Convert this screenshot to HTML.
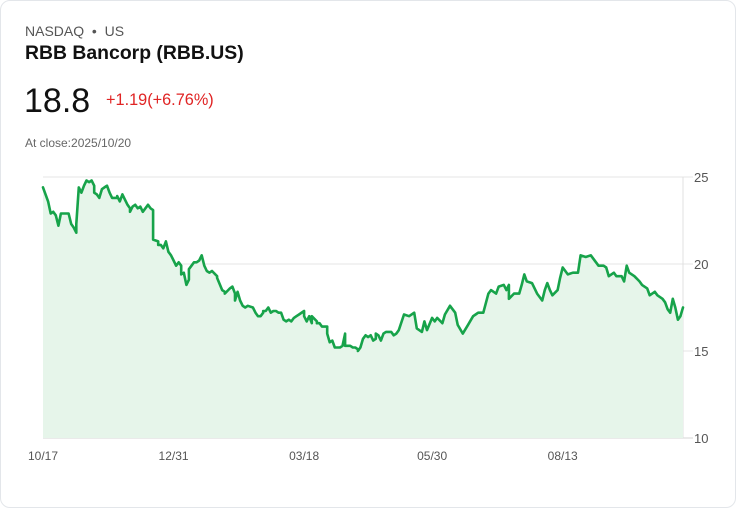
<!DOCTYPE html>
<html><head><meta charset="utf-8"><style>
html,body{margin:0;padding:0;background:#fff;}
body{width:736px;height:508px;position:relative;overflow:hidden;font-family:"Liberation Sans",sans-serif;}
.card{position:absolute;left:0;top:0;width:734px;height:506px;border:1px solid #e3e6ea;border-radius:10px;}
.t{position:absolute;white-space:nowrap;}
</style></head><body>
<div class="card"></div>
<div class="t" style="left:25px;top:23px;font-size:14px;color:#555;">NASDAQ &nbsp;•&nbsp; US</div>
<div class="t" style="left:25px;top:42px;font-size:19.4px;font-weight:bold;color:#111;">RBB Bancorp (RBB.US)</div>
<div class="t" style="left:24px;top:82px;font-size:34px;color:#111;">18.8</div>
<div class="t" style="left:106px;top:91px;font-size:16.3px;color:#e02424;">+1.19(+6.76%)</div>
<div class="t" style="left:25px;top:136px;font-size:12px;color:#666;">At close:2025/10/20</div>
<svg id="chart" width="736" height="508" style="position:absolute;left:0;top:0"></svg>
<script>
const sessions=[0,2,3,4,5,6,7,8,9,10,11,12,13,13,14,15,16,17,18,19,20,20,21,22,23,24,25,26,27,29,29,30,31,32,33,34,34,35,36,37,38,39,40,41,42,43,43,45,45,46,47,48,49,50,51,52,53,54,54,55,56,57,57,59,60,61,62,63,64,65,66,68,68,70,71,71,73,74,75,75,76,77,78,79,80,82,83,84,85,86,86,87,88,89,90,91,92,93,94,95,96,97,98,99,100,102,102,103,104,105,105,107,107,108,109,111,111,112,113,114,115,116,117,118,118,119,120,121,122,123,123,124,125,126,127,128,129,130,130,131,132,133,134,135,136,137,138,139,
141,143,145,146,148,149,150,152,153,154,156,157,159,161,162,164,166,168,169,170,172,174,175,177,178,180,181,182,182,184,186,187,188,189,191,193,195,196,197,198,199,201,202,203,205,207,209,210,212,214,216,217,219,220,221,223,224,226,227,228,229,231,233,234,236,237,239,240,242,243,244,245,246,247,248,249,250];
const prices=[24.4,23.6,22.9,23.0,22.8,22.2,22.9,22.9,22.9,22.9,22.3,22.1,21.8,22.3,24.4,24.1,24.5,24.8,24.7,24.8,24.5,24.1,24.0,23.8,24.3,24.4,24.5,24.1,23.8,23.8,23.9,23.6,24.0,23.7,23.4,23.2,23.0,23.3,23.4,23.2,23.3,23.0,23.2,23.4,23.2,23.1,21.4,21.3,21.1,21.1,20.9,21.3,20.7,20.5,20.2,19.9,20.1,19.9,19.4,19.5,18.8,19.1,19.7,20.1,20.1,20.2,20.5,19.9,19.6,19.5,19.6,19.3,19.2,18.5,18.4,18.3,18.6,18.7,18.3,17.9,18.4,17.9,17.6,17.5,17.6,17.5,17.2,17.0,17.0,17.2,17.3,17.3,17.5,17.2,17.3,17.3,17.2,17.2,16.8,16.7,16.8,16.7,16.9,17.0,17.1,17.3,17.0,16.7,17.0,16.6,17.0,16.7,16.6,16.6,16.4,16.4,16.0,15.5,15.6,15.2,15.2,15.2,15.3,16.0,15.3,15.3,15.3,15.2,15.2,15.1,15.0,15.2,15.7,15.9,15.8,15.9,15.6,15.7,16.0,15.9,15.6,16.0,16.1,16.1,16.1,15.9,16.0,16.2,
17.1,17.0,17.2,16.3,16.1,16.7,16.2,16.9,16.7,16.9,16.6,17.1,17.6,17.2,16.5,16.0,16.5,17.0,17.1,17.2,17.2,18.3,18.5,18.3,18.7,18.8,18.5,18.8,18.0,18.3,18.3,18.8,19.4,19.0,18.9,18.3,17.9,18.5,18.9,18.5,18.2,18.5,19.2,19.8,19.4,19.5,19.5,20.5,20.4,20.5,20.1,19.9,19.9,19.8,19.3,19.5,19.3,19.3,19.0,19.9,19.5,19.3,19.0,18.8,18.6,18.2,18.4,18.2,18.0,17.8,17.4,17.2,18.0,17.5,16.8,17.0,17.5];
const yTicks=[10,15,20,25];
const xTickLabels=["10/17","12/31","03/18","05/30","08/13"];
const xTickSessions=[0,51,102,152,203];

const L=43,R=683,T=177,B=438,S0=0,S1=250,Y0=10,Y1=25;
const xs=s=>L+(s-S0)/(S1-S0)*(R-L);
const ys=v=>B-(v-Y0)/(Y1-Y0)*(B-T);
const svg=document.getElementById('chart');
const NS='http://www.w3.org/2000/svg';
function mk(tag,attrs){const e=document.createElementNS(NS,tag);for(const k in attrs)e.setAttribute(k,attrs[k]);svg.appendChild(e);return e;}
yTicks.forEach(v=>{
  const g=mk('line',{x1:L,x2:R+10,y1:ys(v),y2:ys(v),stroke:v===Y0?'#d6d6d6':'#e6e6e6','stroke-width':1});
  
  
  const t=mk('text',{x:694,y:ys(v)+5,'font-size':13,fill:'#555','font-family':'Liberation Sans, sans-serif'});
  t.textContent=v;
  
  
});
const vl=mk('line',{x1:R,x2:R,y1:T,y2:B,stroke:'#e0e0e0','stroke-width':1});


xTickLabels.forEach((lab,i)=>{
  const t=mk('text',{x:xs(xTickSessions[i])-15,y:460,'font-size':12,fill:'#555','font-family':'Liberation Sans, sans-serif'});
  t.textContent=lab;
  
  
});
const n=Math.min(sessions.length,prices.length);
let d='';
for(let i=0;i<n;i++){d+=(i?'L':'M')+xs(sessions[i]).toFixed(1)+' '+ys(prices[i]).toFixed(1);}
const area=mk('path',{d:d+'L'+xs(sessions[n-1])+' '+B+'L'+xs(sessions[0])+' '+B+'Z',fill:'#e6f5ea'});


const line=mk('path',{d:d,fill:'none',stroke:'#17a34a','stroke-width':2.6,'stroke-linejoin':'round','stroke-linecap':'round'});


</script>
</body></html>
